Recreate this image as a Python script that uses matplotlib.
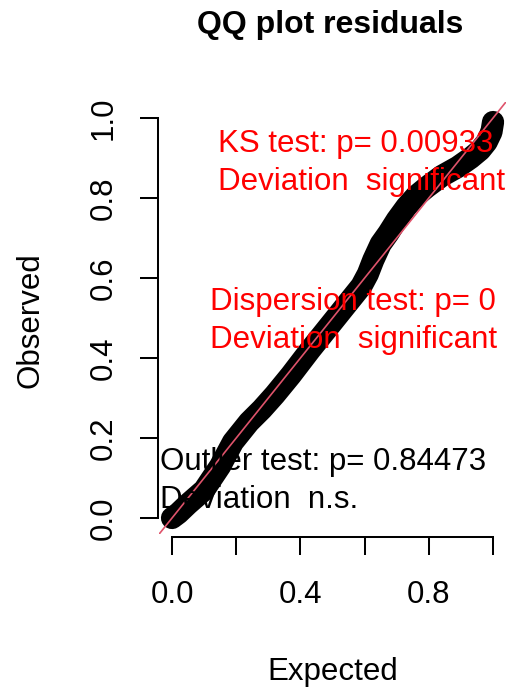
import matplotlib
matplotlib.use("Agg")
import matplotlib.pyplot as plt

plt.rcParams['font.family'] = ['Liberation Sans', 'DejaVu Sans']

# quantiles (expected vs observed)
expected = [0.0, 0.02, 0.05, 0.10, 0.15, 0.19, 0.24, 0.28, 0.32, 0.37, 0.43, 0.49,
            0.555, 0.59, 0.61, 0.627, 0.65, 0.674, 0.70, 0.73, 0.76, 0.794, 0.84,
            0.89, 0.93, 0.96, 0.98, 0.995, 1.0]
observed = [0.0, 0.012, 0.035, 0.07, 0.13, 0.19, 0.24, 0.272, 0.308, 0.357, 0.42, 0.48,
            0.545, 0.58, 0.61, 0.645, 0.685, 0.712, 0.745, 0.778, 0.805, 0.8275, 0.855,
            0.8775, 0.90, 0.92, 0.94, 0.965, 0.99]

ticks = [0.0, 0.2, 0.4, 0.6, 0.8, 1.0]
xtick_labels = ['0.0', '', '0.4', '', '0.8', '']
ytick_labels = ['0.0', '0.2', '0.4', '0.6', '0.8', '1.0']

tests = [
    ("KS test: p= 0.00933", "Deviation  significant", 'red', 0.1433, 0.915),
    ("Dispersion test: p= 0", "Deviation  significant", 'red', 0.118, 0.52),
    ("Outlier test: p= 0.84473", "Deviation  n.s.", 'black', -0.0374, 0.12),
]

fs = 22.5
fig = plt.figure(figsize=(5.11, 6.87), dpi=100)
ax = fig.add_axes([0.3115, 0.2227, 0.6785, 0.6288])

ax.plot(expected, observed, color='black', lw=16, solid_capstyle='round',
        solid_joinstyle='round', zorder=2)
ax.axline((0, 0), (1, 1), color='#DF536B', lw=1.2, zorder=3)

for line1, line2, col, x, y in tests:
    ax.text(x, y, line1, color=col, fontsize=fs, va='baseline', ha='left', zorder=4)
    ax.text(x, y - 0.095, line2, color=col, fontsize=fs, va='baseline', ha='left', zorder=4)

ax.set_xlim(-0.04, 1.04)
ax.set_ylim(-0.04, 1.04)
for s in ['top', 'right']:
    ax.spines[s].set_visible(False)
ax.spines['left'].set_position(('outward', 1))
ax.spines['bottom'].set_position(('outward', 2))
ax.spines['left'].set_bounds(0, 1)
ax.spines['bottom'].set_bounds(0, 1)
for s in ['left', 'bottom']:
    ax.spines[s].set_linewidth(1.45)

ax.set_xticks(ticks)
ax.set_xticklabels(xtick_labels)
ax.set_yticks(ticks)
ax.set_yticklabels(ytick_labels, rotation=90, va='center')
ax.tick_params(axis='both', length=13, width=1.45, labelsize=fs)
ax.tick_params(axis='x', pad=18)
ax.tick_params(axis='y', pad=15)

fig.text(330 / 511, 1 - 25 / 687, "QQ plot residuals", fontsize=23, fontweight='bold',
         ha='center', va='center')
fig.text(333 / 511, 1 - 672 / 687, "Expected", fontsize=fs, ha='center', va='center')
fig.text(30 / 511, 1 - 320 / 687, "Observed", fontsize=fs, rotation=90,
         ha='center', va='center')

fig.savefig("out.png", dpi=100)
